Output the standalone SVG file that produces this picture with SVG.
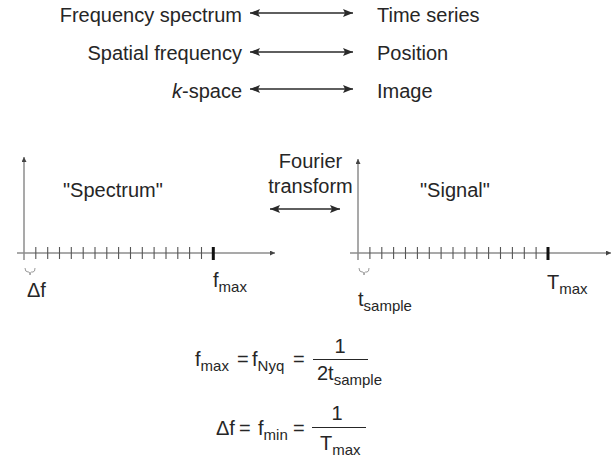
<svg xmlns="http://www.w3.org/2000/svg" width="613" height="461" viewBox="0 0 613 461">
<defs>
<marker id="ah" viewBox="0 0 10 8" refX="10" refY="4" markerWidth="10" markerHeight="8" markerUnits="userSpaceOnUse" orient="auto-start-reverse">
<path d="M0,0 L10,4 L0,8 L2,4 Z" fill="#2a2a2a"/>
</marker>
<marker id="sm" viewBox="0 0 6 6" refX="6" refY="3" markerWidth="5" markerHeight="5" markerUnits="userSpaceOnUse" orient="auto">
<path d="M0,0 L6,3 L0,6 Z" fill="#444"/>
</marker>
<style>
text{font-family:"Liberation Sans",Arial,sans-serif;fill:#262626;font-size:20px}
.sub{font-size:15px}
.arr{stroke:#2a2a2a;stroke-width:1.6;fill:none}
.axis{stroke:#8c8c8c;stroke-width:1.5;fill:none}
.tick{stroke:#555;stroke-width:1.1;fill:none}
.bold{stroke:#111;stroke-width:3;fill:none}
.brace{stroke:#999;stroke-width:1;fill:none}
.frac{stroke:#262626;stroke-width:1.2}
</style>
</defs>

<g id="row1">
<text x="242" y="22" text-anchor="end">Frequency spectrum</text>
<text x="377" y="22">Time series</text>
</g>
<g id="row2">
<text x="242" y="60" text-anchor="end">Spatial frequency</text>
<text x="377" y="60">Position</text>
</g>
<g id="row3">
<text x="242" y="98" text-anchor="end"><tspan font-style="italic">k</tspan>-space</text>
<text x="377" y="98">Image</text>
</g>

<g id="connectors">
<line class="arr" x1="250" y1="13" x2="353" y2="13" marker-start="url(#ah)" marker-end="url(#ah)"/>
<line class="arr" x1="250" y1="52" x2="353" y2="52" marker-start="url(#ah)" marker-end="url(#ah)"/>
<line class="arr" x1="250" y1="89" x2="353" y2="89" marker-start="url(#ah)" marker-end="url(#ah)"/>
<line class="arr" x1="270" y1="209" x2="340" y2="209" marker-start="url(#ah)" marker-end="url(#ah)"/>
</g>

<g id="fourier">
<text x="310.5" y="168" text-anchor="middle">Fourier</text>
<text x="310.5" y="193" text-anchor="middle">transform</text>
</g>

<g id="spectrum-plot">
<line class="axis" x1="24" y1="260" x2="24" y2="157" marker-end="url(#sm)"/>
<line class="axis" x1="17" y1="253" x2="275" y2="253" marker-end="url(#sm)"/>
<path class="tick" d="M35.8,247V259M47.7,247V259M59.5,247V259M71.3,247V259M83.2,247V259M95,247V259M106.8,247V259M118.6,247V259M130.5,247V259M142.3,247V259M154.1,247V259M166,247V259M177.8,247V259M189.6,247V259M201.5,247V259"/>
<line class="bold" x1="213.3" y1="247" x2="213.3" y2="260"/>
<path class="brace" d="M25,268 Q25,272 28,272 L29,272 Q30,272 30,275 Q30,272 31.5,272 L33,272 Q35,272 35,268"/>
<text x="63" y="197">"Spectrum"</text>
<text x="213" y="287">f<tspan class="sub" dy="5">max</tspan></text>
<text x="27" y="297">Δf</text>
</g>

<g id="signal-plot">
<line class="axis" x1="358" y1="260" x2="358" y2="159" marker-end="url(#sm)"/>
<line class="axis" x1="350" y1="253" x2="611" y2="253" marker-end="url(#sm)"/>
<path class="tick" d="M369.9,247V259M381.8,247V259M393.6,247V259M405.5,247V259M417.4,247V259M429.3,247V259M441.1,247V259M453,247V259M464.9,247V259M476.8,247V259M488.6,247V259M500.5,247V259M512.4,247V259M524.3,247V259M536.1,247V259"/>
<line class="bold" x1="548" y1="247" x2="548" y2="260"/>
<path class="brace" d="M359,268 Q359,272 362,272 L363,272 Q364,272 364,275 Q364,272 365.5,272 L367,272 Q369,272 369,268"/>
<text x="420" y="197">"Signal"</text>
<text x="547" y="289">T<tspan class="sub" dy="5">max</tspan></text>
<text x="358" y="306">t<tspan class="sub" dy="5">sample</tspan></text>
</g>

<g id="formula1">
<text x="195" y="366">f<tspan class="sub" dy="5">max</tspan></text>
<text x="237" y="366">=</text>
<text x="252" y="366">f<tspan class="sub" dy="5">Nyq</tspan></text>
<text x="293" y="366">=</text>
<text x="340" y="353" text-anchor="middle">1</text>
<line class="frac" x1="313" y1="359.5" x2="368" y2="359.5"/>
<text x="317" y="380">2t<tspan class="sub" dy="5">sample</tspan></text>
</g>

<g id="formula2">
<text x="216" y="435">Δf</text>
<text x="239" y="435">=</text>
<text x="258" y="435">f<tspan class="sub" dy="5">min</tspan></text>
<text x="293" y="435">=</text>
<text x="337" y="420" text-anchor="middle">1</text>
<line class="frac" x1="312" y1="427.5" x2="366" y2="427.5"/>
<text x="320" y="450">T<tspan class="sub" dy="5">max</tspan></text>
</g>
</svg>
